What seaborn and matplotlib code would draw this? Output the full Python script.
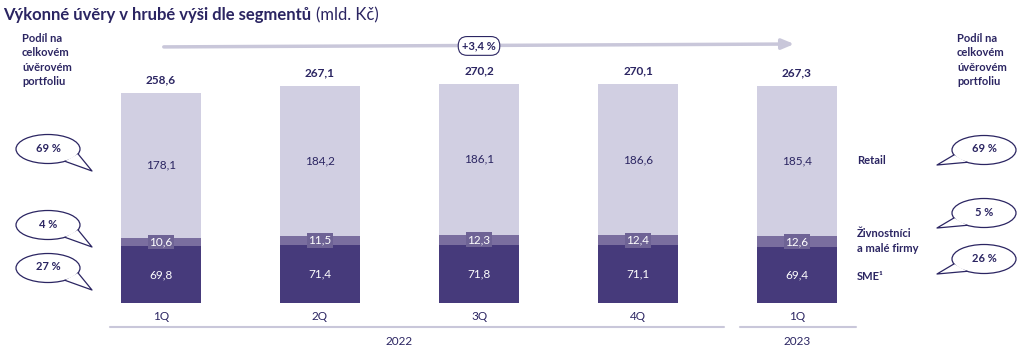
import numpy as np
import pandas as pd
import matplotlib
matplotlib.use('Agg')
import matplotlib.pyplot as plt
from matplotlib.patches import Ellipse, Polygon
from matplotlib.transforms import blended_transform_factory
import seaborn as sns

# data (mld. Kč)
quarters = ['1Q', '2Q', '3Q', '4Q', '1Q ']
tick_labels = ['1Q', '2Q', '3Q', '4Q', '1Q']
retail = [178.1, 184.2, 186.1, 186.6, 185.4]
small_biz = [10.6, 11.5, 12.3, 12.4, 12.6]
sme = [69.8, 71.4, 71.8, 71.1, 69.4]
totals = [258.6, 267.1, 270.2, 270.1, 267.3]
share_2022 = ['69 %', '4 %', '27 %']
share_2023 = ['69 %', '5 %', '26 %']
growth = '+3,4 %'

NAVY = '#2B2562'
C_RETAIL = '#D1CFE2'
C_SMALL = '#7A6E9F'
C_SME = '#463A7B'
C_LINE = '#C9C7DA'

sns.set_theme(style='white')
plt.rcParams['font.family'] = ['Lato', 'DejaVu Sans']

df = pd.DataFrame({'q': quarters, 'retail': retail, 'small': small_biz, 'sme': sme})
df['lvl2'] = df['sme'] + df['small']
df['lvl3'] = df['lvl2'] + df['retail']

fig = plt.figure(figsize=(10.24, 3.51), dpi=100)
# bar axes: baseline at 303 px from top, 0.812 px per unit
base_px, top_px, scale = 303, 60, 0.812
ax = fig.add_axes([0, (351 - base_px) / 351, 1, (base_px - top_px) / 351])
for col, c in [('lvl3', C_RETAIL), ('lvl2', C_SMALL), ('sme', C_SME)]:
    sns.barplot(data=df, x='q', y=col, color=c, width=0.5, saturation=1, linewidth=0,
                edgecolor='none', ax=ax)
ax.set_xlim(-161 / 159, (1024 - 161) / 159)
ax.set_ylim(0, (base_px - top_px) / scale)
ax.set_xlabel('')
ax.set_ylabel('')
ax.set_yticks([])
ax.set_xticks(range(len(tick_labels)))
ax.set_xticklabels(tick_labels, color=NAVY, fontsize=8.5)
ax.tick_params(axis='x', length=0, pad=6)
for s in ax.spines.values():
    s.set_visible(False)
ax.patch.set_alpha(0)

for i in range(len(quarters)):
    ax.text(i, sme[i] / 2, f'{sme[i]:.1f}'.replace('.', ','), ha='center', va='center',
            color='white', fontsize=8.5)
    ax.text(i, sme[i] + small_biz[i] / 2, f'{small_biz[i]:.1f}'.replace('.', ','), ha='center',
            va='center', color='white', fontsize=8.5,
            bbox=dict(boxstyle='square,pad=0.15', fc='#6E6395', ec='none'))
    ax.text(i, sme[i] + small_biz[i] + retail[i] / 2, f'{retail[i]:.1f}'.replace('.', ','),
            ha='center', va='center', color=NAVY, fontsize=8.5)
    ax.text(i, totals[i] + 16, f'{totals[i]:.1f}'.replace('.', ','), ha='center', va='center',
            color=NAVY, fontsize=8.5, fontweight='bold')

# year separators and labels
tr = blended_transform_factory(ax.transData, ax.transAxes)
ax.plot([-0.32, 3.54], [-0.1, -0.1], color=C_LINE, lw=1.5, transform=tr, clip_on=False)
ax.plot([3.64, 4.37], [-0.1, -0.1], color=C_LINE, lw=1.5, transform=tr, clip_on=False)
ax.text(1.5, -0.16, '2022', ha='center', va='center', color=NAVY, fontsize=8.5, transform=tr)
ax.text(4, -0.16, '2023', ha='center', va='center', color=NAVY, fontsize=8.5, transform=tr)

# growth arrow
y_arr = (base_px - 44) / (base_px - top_px)
ax.annotate('', xy=(4, y_arr), xytext=(0, y_arr - 0.012), xycoords=tr, textcoords=tr,
            arrowprops=dict(arrowstyle='-|>,head_length=0.6,head_width=0.25', color=C_LINE, lw=2.5))
ax.text(2, y_arr - 0.008, growth, ha='center', va='center', color=NAVY, fontsize=8, fontweight='bold',
        transform=tr, bbox=dict(boxstyle='round,pad=0.35,rounding_size=0.8', fc='white', ec=NAVY, lw=0.8))

# overlay in pixel coordinates for annotations
ov = fig.add_axes([0, 0, 1, 1])
ov.set_xlim(0, 1024)
ov.set_ylim(351, 0)
ov.axis('off')
ov.patch.set_alpha(0)

t1 = ov.text(3, 15, 'Výkonné úvěry v hrubé výši dle segmentů', fontsize=12, fontweight='bold',
             color=NAVY, va='center', ha='left')
fig.canvas.draw()
bb = t1.get_window_extent()
ov.text(bb.x1 + 5, 15, '(mld. Kč)', fontsize=12, color=NAVY, va='center', ha='left')

head = 'Podíl na\ncelkovém\núvěrovém\nportfoliu'
ov.text(22, 60, head, fontsize=8, fontweight='bold', color=NAVY, va='center', ha='left', linespacing=1.35)
ov.text(957, 60, head, fontsize=8, fontweight='bold', color=NAVY, va='center', ha='left', linespacing=1.35)


def bubble(cx, cy, text, tip, right_tail):
    w, h = 64, 29
    ov.add_patch(Ellipse((cx, cy), w, h, fc='white', ec=NAVY, lw=0.9, zorder=2))
    angs = [20, 58] if right_tail else [160, 122]
    pts = [(cx + w / 2 * np.cos(np.radians(a)), cy + h / 2 * np.sin(np.radians(a))) for a in angs]
    ov.add_patch(Polygon([pts[0], tip, pts[1]], closed=True, fc='white', ec='none', zorder=3))
    ov.plot([pts[0][0], tip[0], pts[1][0]], [pts[0][1], tip[1], pts[1][1]], color=NAVY, lw=0.9, zorder=4)
    ov.text(cx, cy - 1, text, ha='center', va='center', fontsize=8, fontweight='bold', color=NAVY, zorder=5)


for lab, cy in zip(share_2022, [149, 225, 268]):
    bubble(48, cy, lab, (92, cy + 22), True)
for lab, cy in zip(share_2023, [150, 213, 259]):
    bubble(984, cy, lab, (937, cy + 15), False)

ov.text(857, 160, 'Retail', fontsize=8, fontweight='bold', color=NAVY, va='center')
ov.text(857, 241, 'Živnostníci\na malé firmy', fontsize=8, fontweight='bold', color=NAVY, va='center',
        linespacing=1.35)
ov.text(857, 277, 'SME¹', fontsize=8, fontweight='bold', color=NAVY, va='center')

fig.savefig('out.png', dpi=100)
